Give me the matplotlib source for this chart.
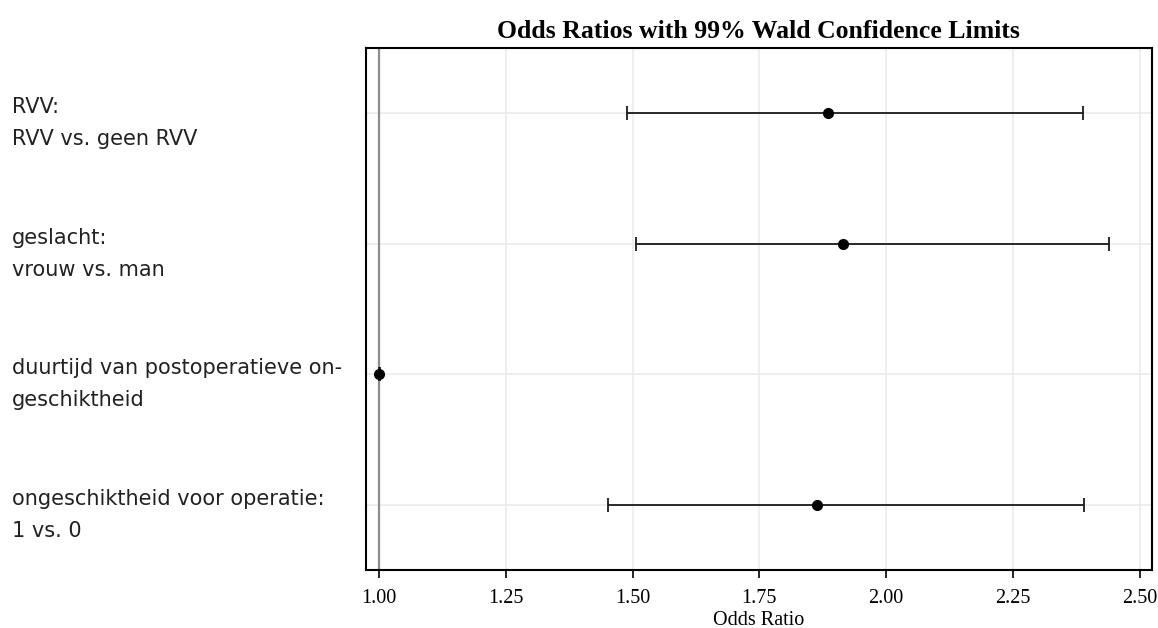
import matplotlib.pyplot as plt

# effects, top to bottom
effect_names = ['RVV:', 'geslacht:', 'duurtijd van postoperatieve on-',
                'ongeschiktheid voor operatie:']
effect_levels = ['RVV vs. geen RVV', 'vrouw vs. man', 'geschiktheid', '1 vs. 0']
odds = [1.885, 1.915, 1.000, 1.863]
lower = [1.488, 1.506, 0.999, 1.451]
upper = [2.388, 2.439, 1.001, 2.391]
ticks = [1.00, 1.25, 1.50, 1.75, 2.00, 2.25, 2.50]

fig = plt.figure(figsize=(11.58, 6.28), dpi=100)
ax = fig.add_axes([0.316, 0.0924, 0.6786, 0.8312])

rows = list(range(len(odds)))
ax.axvline(1.0, color='#8c8c8c', lw=1.6, zorder=2)
err = [[o - l for o, l in zip(odds, lower)], [u - o for o, u in zip(odds, upper)]]
ax.errorbar(odds, rows, xerr=err, fmt='o', color='black', ecolor='#1a1a1a',
            elinewidth=1.3, capsize=5, capthick=1.3, markersize=7, zorder=3)

ax.set_ylim(3.5, -0.5)
ax.set_xlim(0.974, 2.524)
ax.set_xticks(ticks)
ax.set_xticklabels(['%.2f' % t for t in ticks], family='Liberation Serif', fontsize=14.5)
ax.set_yticks(rows)
ax.set_yticklabels([])
ax.tick_params(axis='y', length=0)
ax.tick_params(axis='x', length=6, width=1.2, direction='out', pad=8)
ax.grid(True, color='#ebebeb', lw=1.2, zorder=0)
ax.set_axisbelow(True)
for s in ax.spines.values():
    s.set_linewidth(1.5)
    s.set_color('black')

ax.set_xlabel('Odds Ratio', family='Liberation Serif', fontsize=14.5, labelpad=2)
ax.set_title('Odds Ratios with 99% Wald Confidence Limits', family='Liberation Serif',
             fontweight='bold', fontsize=18.5, pad=7)

# two-line effect labels at the left edge of the figure
for r, name, level in zip(rows, effect_names, effect_levels):
    ax.annotate(name, xy=(12 / 1158, r), xycoords=('figure fraction', 'data'),
                xytext=(0, 0), textcoords='offset points', ha='left', va='baseline',
                fontsize=15, color='#222222', family='DejaVu Sans')
    ax.annotate(level, xy=(12 / 1158, r), xycoords=('figure fraction', 'data'),
                xytext=(0, -23), textcoords='offset points', ha='left', va='baseline',
                fontsize=15, color='#222222', family='DejaVu Sans')

fig.savefig('out.png', dpi=100)
